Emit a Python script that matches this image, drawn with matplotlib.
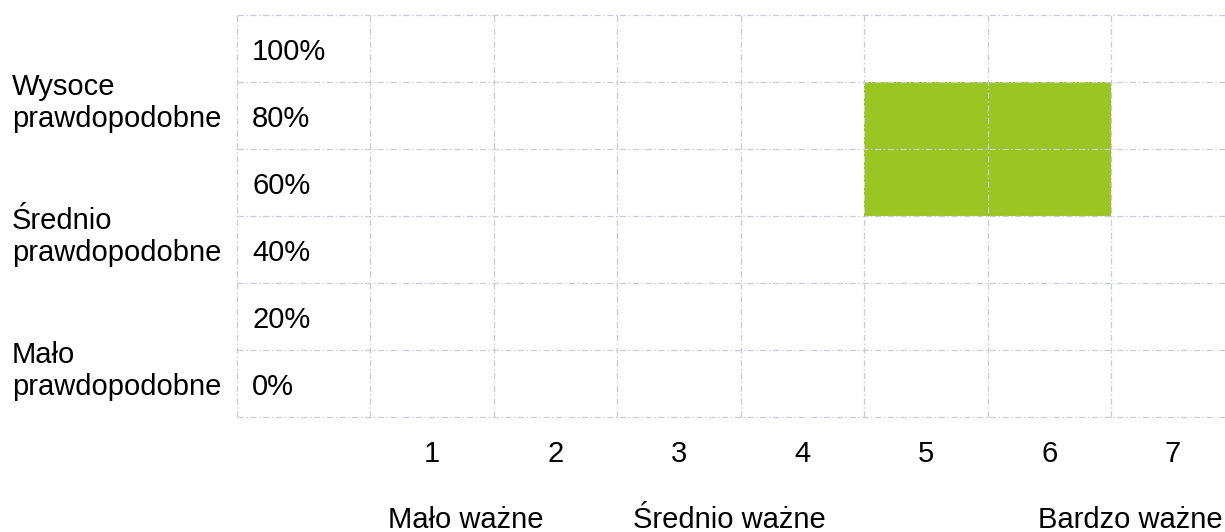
import matplotlib
matplotlib.use("Agg")
import matplotlib.pyplot as plt
from matplotlib.transforms import blended_transform_factory

# Risk matrix data
impact_ticks = [1, 2, 3, 4, 5, 6, 7]
likelihood_values = [0, 20, 40, 60, 80, 100]
likelihood_tick_labels = ["0%", "20%", "40%", "60%", "80%", "100%"]
likelihood_groups = ["Mało\nprawdopodobne", "Średnio\nprawdopodobne", "Wysoce\nprawdopodobne"]
likelihood_group_pos = [0, 40, 80]
impact_groups = ["Mało ważne", "Średnio ważne", "Bardzo ważne"]
impact_group_pos = [0.644, 2.628, 5.907]

# Highlighted cells (impact, likelihood)
cell_impact = [5, 6, 5, 6]
cell_likelihood = [60, 60, 80, 80]

GREEN = "#9ac523"
GRID = "#c9cdd3"
FONT = "Liberation Sans"
FS = 21

plt.rcParams["font.family"] = [FONT, "DejaVu Sans"]

fig = plt.figure(figsize=(12.25, 5.32), dpi=100)
ax = fig.add_axes([237 / 1225, 1 - 417 / 532, 1 - 237 / 1225, (417 - 15) / 532])
x_left = -0.579
ax.set_xlim(x_left, 7.421)
ax.set_ylim(-10, 110)
ax.axis("off")

# Filled cells
ax.bar(cell_impact, [20] * len(cell_impact), bottom=[v - 10 for v in cell_likelihood],
       width=1.0, color=GREEN, linewidth=0, zorder=1)

# Dash-dot grid
ls = (0, (5, 2, 1.2, 2))
for xb in [x_left] + [t - 0.5 for t in impact_ticks]:
    ax.axvline(xb, color=GRID, lw=0.9, ls=ls, zorder=2, clip_on=False)
for yb in [v - 10 for v in likelihood_values] + [110]:
    ax.axhline(yb, color=GRID, lw=0.9, ls=ls, zorder=2, clip_on=False)

# Offset from row centre to text baseline, in data units
base_off = 3.43

for v, lab in zip(likelihood_values, likelihood_tick_labels):
    ax.text(-0.457, v - base_off, lab, ha="left", va="baseline", fontsize=FS, zorder=3)

for t in impact_ticks:
    ax.text(t, -23.4, str(t), ha="center", va="baseline", fontsize=FS, clip_on=False)

for xpos, lab in zip(impact_group_pos, impact_groups):
    ax.text(xpos, -43.1, lab, ha="left", va="baseline", fontsize=FS, clip_on=False)

trans = blended_transform_factory(fig.transFigure, ax.transData)
for ypos, lab in zip(likelihood_group_pos, likelihood_groups):
    ax.text(12 / 1225, ypos - base_off, lab, transform=trans, ha="left", va="baseline",
            fontsize=FS, linespacing=1.17, clip_on=False)

fig.savefig("out.png", dpi=100)
